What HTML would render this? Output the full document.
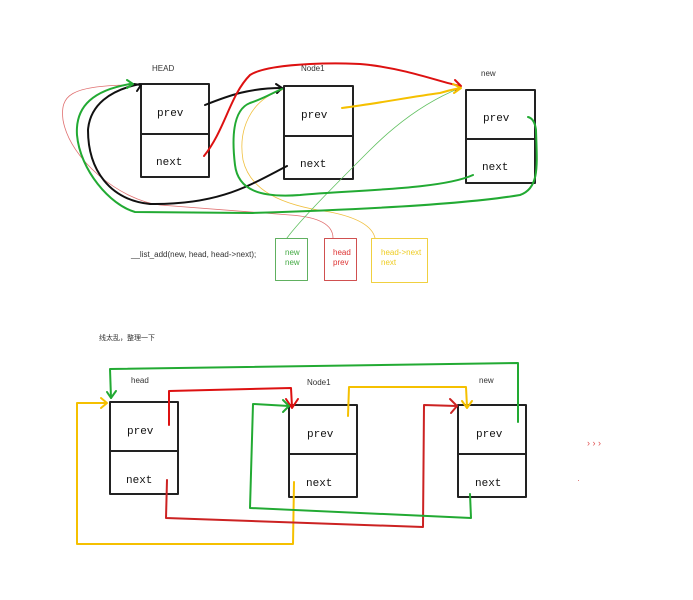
<!DOCTYPE html>
<html><head><meta charset="utf-8"><style>
html,body{margin:0;padding:0;background:#fff;}
svg{display:block}
text{font-family:"Liberation Sans","Noto Sans CJK SC",sans-serif;}
.m{font-family:"Liberation Mono",monospace;font-size:11px;fill:#111}
</style></head><body>
<svg width="693" height="600" viewBox="0 0 693 600" xmlns="http://www.w3.org/2000/svg" fill="none" stroke-linecap="round" stroke-linejoin="round">
<!-- TOP boxes -->
<g stroke="#222" stroke-width="2">
<rect x="141" y="84" width="68" height="93"/><line x1="141" y1="134" x2="209" y2="134"/>
<rect x="284" y="86" width="69" height="93"/><line x1="284" y1="136" x2="353" y2="136"/>
<rect x="466" y="90" width="69" height="93"/><line x1="466" y1="139" x2="535" y2="139"/>
</g>
<text x="152" y="71" font-size="8" fill="#333">HEAD</text>
<text x="301" y="71" font-size="8" fill="#333">Node1</text>
<text x="481" y="76" font-size="8" fill="#333">new</text>
<text class="m" x="157" y="116">prev</text><text class="m" x="156" y="165">next</text>
<text class="m" x="301" y="118">prev</text><text class="m" x="300" y="167">next</text>
<text class="m" x="483" y="121">prev</text><text class="m" x="482" y="170">next</text>

<!-- thin lines -->
<path d="M333,238 C333,225 320,217 290,215 L160,205 C120,200 70,160 63,120 C60,95 70,86 130,85" stroke="#e07070" stroke-width="0.8"/>
<path d="M375,238 C372,225 355,217 330,212 C280,205 250,190 243,160 C238,130 250,100 282,90" stroke="#f0c040" stroke-width="0.8"/>
<path d="M287,238 C300,220 340,180 370,150 C400,120 430,100 460,88" stroke="#60c060" stroke-width="0.8"/>
<!-- black -->
<path d="M205,105 C230,95 250,88 282,88" stroke="#111" stroke-width="2"/>
<path d="M276,84 L282,88 L277,93" stroke="#111" stroke-width="2"/>
<path d="M287,166 C250,185 220,205 150,204 C110,200 88,170 88,130 C90,105 110,90 140,84" stroke="#111" stroke-width="2"/>
<path d="M134,84 L141,85 L137,91" stroke="#111" stroke-width="2"/>
<!-- red thick -->
<path d="M204,156 C225,130 230,95 250,75 C270,62 350,62 370,65 C410,70 440,82 460,86" stroke="#dd1111" stroke-width="2"/>
<path d="M455,80 L461,86 L456,91" stroke="#dd1111" stroke-width="2"/>
<!-- yellow thick -->
<path d="M342,108 C380,103 410,97 440,93 C450,90 455,89 460,88" stroke="#f5c000" stroke-width="2"/>
<path d="M453,84 L461,88 L454,93" stroke="#f5c000" stroke-width="2"/>
<!-- green thick -->
<path d="M130,84 C95,90 75,105 77,135 C80,170 110,205 135,212 L250,213 C350,210 460,205 520,195 C540,188 537,165 536,130 C535,122 532,118 528,117" stroke="#22aa33" stroke-width="2"/>
<path d="M127,80 L133,84 L127,88" stroke="#22aa33" stroke-width="2"/>
<path d="M473,175 C440,190 350,190 300,195 C260,198 238,190 235,165 C232,140 232,110 250,103 C265,98 272,93 282,89" stroke="#22aa33" stroke-width="2"/>

<!-- legend -->
<text x="131" y="257" font-size="8" fill="#333">__list_add(new, head, head-&gt;next);</text>
<rect x="275.5" y="238.5" width="32" height="42" stroke="#60b060" stroke-width="1"/>
<rect x="324.5" y="238.5" width="32" height="42" stroke="#d05050" stroke-width="1"/>
<rect x="371.5" y="238.5" width="56" height="44" stroke="#f0d040" stroke-width="1"/>
<text x="285" y="255" font-size="8" fill="#44aa44">new</text><text x="285" y="265" font-size="8" fill="#44aa44">new</text>
<text x="333" y="255" font-size="8" fill="#dd3333">head</text><text x="333" y="265" font-size="8" fill="#dd3333">prev</text>
<text x="381" y="255" font-size="8" fill="#eecc22">head-&gt;next</text><text x="381" y="265" font-size="8" fill="#eecc22">next</text>

<text x="99" y="340" font-size="7" fill="#333">线太乱，整理一下</text>

<!-- BOTTOM boxes -->
<g stroke="#222" stroke-width="2">
<rect x="110" y="402" width="68" height="92"/><line x1="110" y1="451" x2="178" y2="451"/>
<rect x="289" y="405" width="68" height="92"/><line x1="289" y1="454" x2="357" y2="454"/>
<rect x="458" y="405" width="68" height="92"/><line x1="458" y1="454" x2="526" y2="454"/>
</g>
<text x="131" y="383" font-size="8" fill="#333">head</text>
<text x="307" y="385" font-size="8" fill="#333">Node1</text>
<text x="479" y="383" font-size="8" fill="#333">new</text>
<text class="m" x="127" y="434">prev</text><text class="m" x="126" y="483">next</text>
<text class="m" x="307" y="437">prev</text><text class="m" x="306" y="486">next</text>
<text class="m" x="476" y="437">prev</text><text class="m" x="475" y="486">next</text>

<!-- green top loop -->
<path d="M518,422 L518,363 L110,369 L111,398" stroke="#22aa33" stroke-width="2"/>
<path d="M107,392 L111,398 L116,391" stroke="#22aa33" stroke-width="2"/>
<!-- yellow head loop -->
<path d="M294,482 L293,544 L77,544 L77,403 L106,403" stroke="#f5c000" stroke-width="2"/>
<path d="M101,398 L107,403 L101,408" stroke="#f5c000" stroke-width="2"/>
<!-- red head prev -> node1 -->
<path d="M169,425 L169,391 L291,388 L292,407" stroke="#dd1111" stroke-width="2"/>
<path d="M286,399 L292,408 L298,399" stroke="#dd1111" stroke-width="2"/>
<!-- red head next -> new -->
<path d="M167,480 L166,518 L423,527 L424,405 L457,406" stroke="#cc2222" stroke-width="2"/>
<path d="M450,399 L457,406 L451,413" stroke="#cc2222" stroke-width="2"/>
<!-- green new next -> node1 -->
<path d="M470,494 L471,518 L250,508 L253,404 L289,406" stroke="#22aa33" stroke-width="2"/>
<path d="M283,400 L289,406 L283,412" stroke="#22aa33" stroke-width="2"/>
<!-- yellow node1 prev -> new -->
<path d="M348,416 L349,387 L466,387 L467,407" stroke="#f5c000" stroke-width="2"/>
<path d="M462,401 L467,408 L472,401" stroke="#f5c000" stroke-width="2"/>

<text x="587" y="446" font-size="9" fill="#e05050">› › ›</text>
<rect x="578" y="480" width="1" height="1" fill="#e08080"/>
</svg>
</body></html>
